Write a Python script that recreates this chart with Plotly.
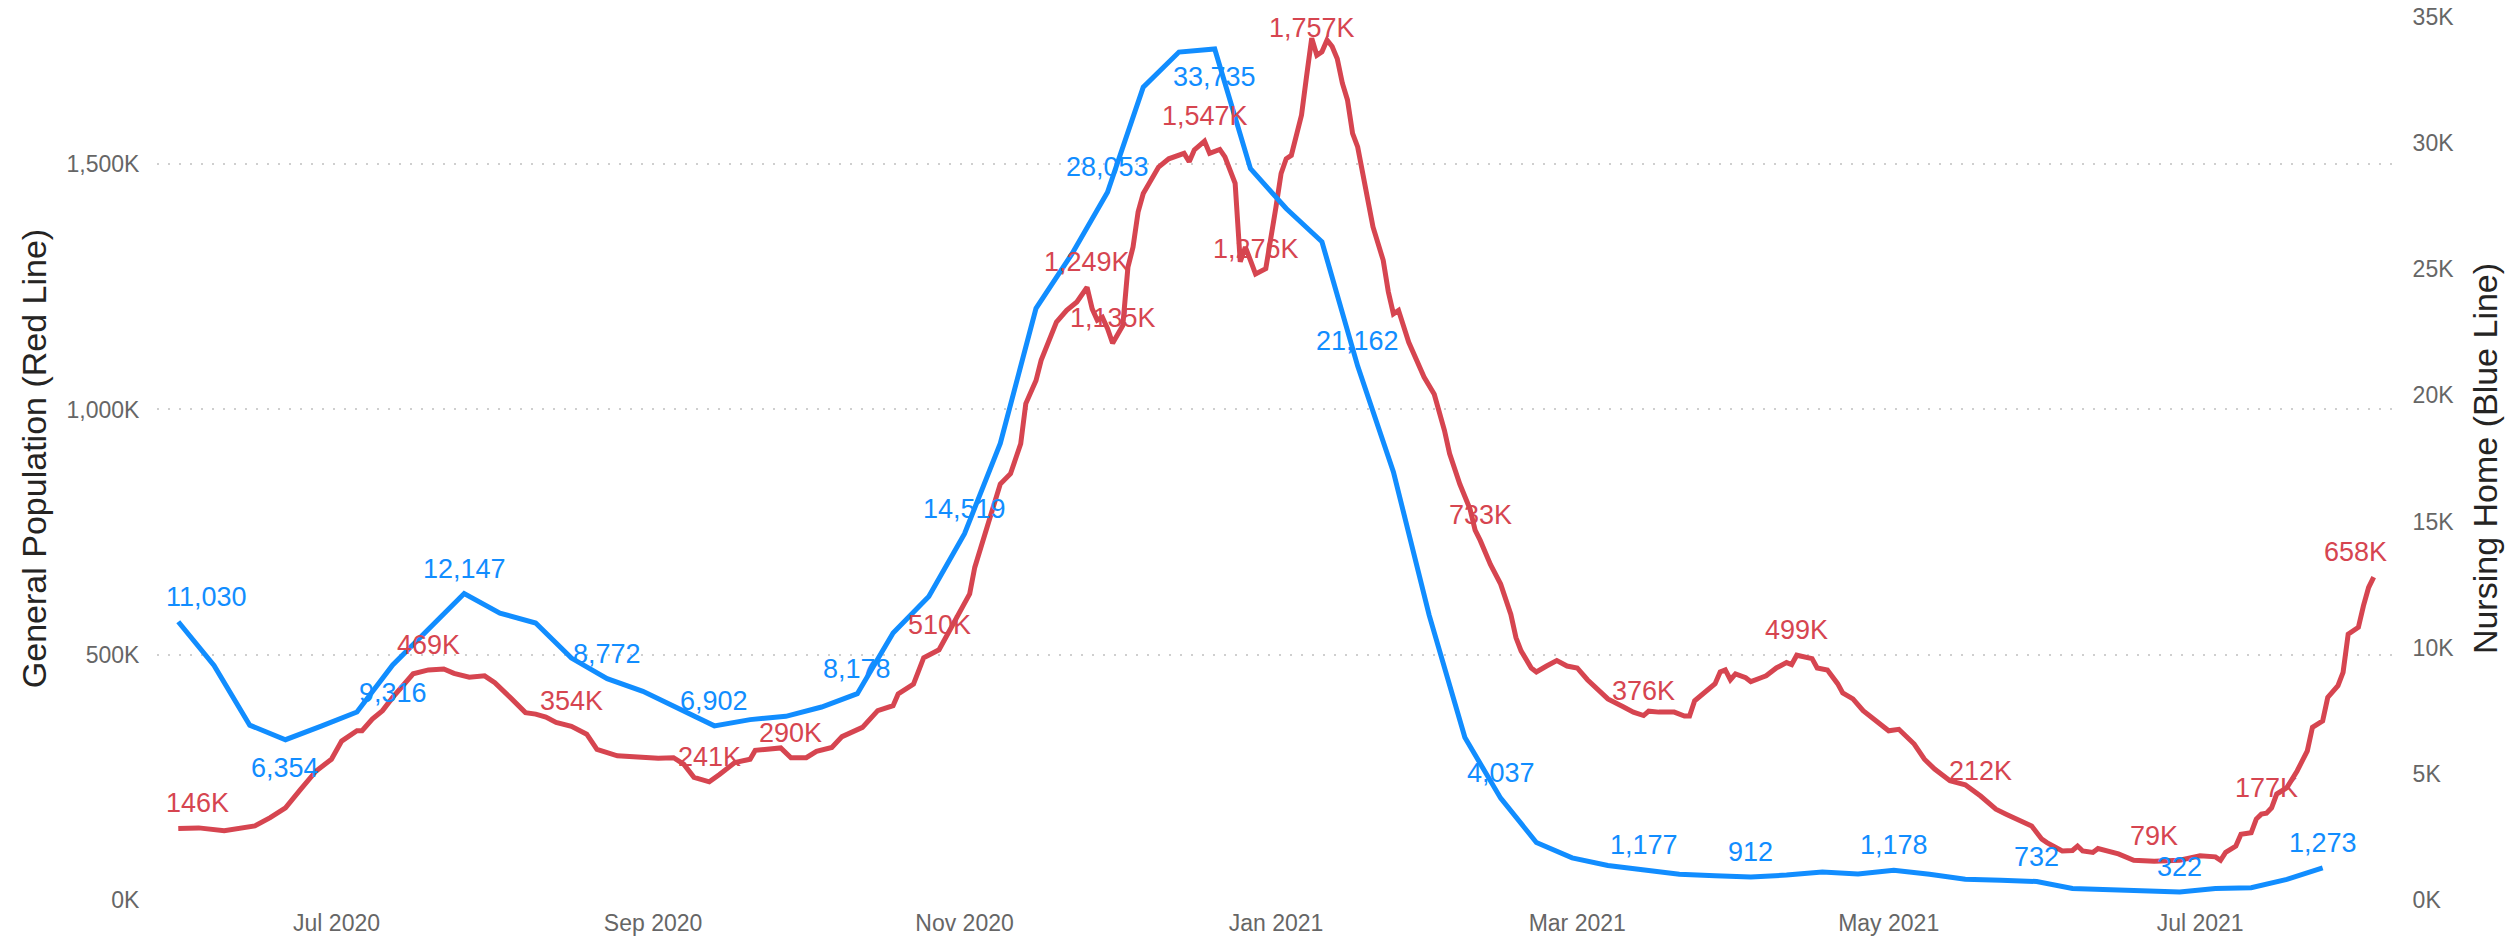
import pandas as pd
import plotly.graph_objects as go

# ---------------- data ----------------
# Nursing Home (blue line) - weekly values, first week ending 2020-05-31
blue_start = "2020-05-31"
blue_values = [
    11030, 9300, 6930, 6354, 6890, 7450, 9316, 10730, 12147, 11370,
    10980, 9590, 8772, 8270, 7610, 6902, 7150, 7280, 7650, 8178,
    10580, 12030, 14519, 18100, 23450, 25600, 28053, 32220, 33610, 33735,
    28990, 27410, 26090, 21162, 16970, 11290, 6440, 4037, 2280, 1670,
    1370, 1177, 1020, 960, 912, 990, 1110, 1030, 1178, 1020,
    820, 780, 732, 460, 420, 360, 322, 460, 490, 820,
    1273,
]
blue_label_idx = [0, 3, 6, 8, 12, 15, 19, 22, 26, 29, 33, 37, 41, 44, 48, 52, 56, 60]
blue_label_below = [3, 6, 29]

# General Population (red line) - days counted from 2020-07-01, values in thousands
red_base = "2020-07-01"
red_days = [
    -31, -27, -22, -20, -16, -13, -10, -7, -4, -1, 1, 4, 5, 7, 9, 11, 15, 18, 21, 23,
    26, 29, 31, 34, 37, 39, 41, 43, 46, 49, 51, 55, 60, 63, 66, 68, 70, 73, 75, 78,
    81, 82, 87, 89, 92, 94, 97, 99, 103, 106, 109, 110, 113, 115, 118, 120, 123, 124, 125, 127,
    130, 132, 134, 135, 137, 138, 139, 141, 143, 145, 147, 148, 149, 150, 151, 152, 154, 155, 156, 157,
    158, 161, 163, 164, 166, 167, 168, 170, 171, 173, 174, 175, 176, 177, 178, 179, 180, 182, 183, 184,
    185, 186, 187, 188, 189, 190, 191, 192, 193, 194, 195, 196, 197, 198, 199, 200, 202, 203, 205, 206,
    207, 208, 210, 213, 215, 217, 218, 220, 222, 223, 224, 226, 228, 230, 231, 232, 234, 235, 237, 239,
    241, 243, 245, 247, 249, 252, 254, 256, 257, 259, 262, 264, 265, 266, 268, 270, 271, 272, 273, 274,
    276, 277, 279, 280, 282, 284, 285, 286, 289, 290, 292, 294, 295, 297, 299, 302, 304, 306, 309, 311,
    313, 316, 319, 322, 325, 327, 330, 332, 334, 335, 338, 340, 341, 342, 344, 345, 349, 352, 356, 361,
    365, 368, 369, 370, 372, 373, 375, 376, 377, 378, 379, 380, 382, 384, 386, 387, 389, 390, 392, 393,
    394, 396, 397, 398, 399,
]
red_values_k = [
    146, 147, 141, 144, 151, 168, 188, 226, 263, 287, 324, 345, 345, 369, 386, 413, 461, 469, 471, 462,
    454, 457, 443, 413, 382, 379, 373, 362, 354, 338, 307, 294, 290, 289, 290, 277, 250, 241, 256, 280,
    287, 305, 310, 290, 290, 303, 311, 333, 352, 386, 396, 420, 440, 494, 510, 549, 603, 624, 678, 746,
    848, 869, 930, 1012, 1059, 1100, 1127, 1178, 1202, 1219, 1249, 1205, 1182, 1188, 1165, 1135, 1171, 1290, 1331, 1403,
    1440, 1494, 1511, 1515, 1522, 1505, 1529, 1547, 1522, 1530, 1515, 1488, 1461, 1301, 1331, 1304, 1276, 1287, 1345, 1413,
    1481, 1511, 1518, 1560, 1600, 1680, 1757, 1722, 1729, 1753, 1740, 1715, 1665, 1631, 1563, 1535, 1427, 1372, 1304, 1240,
    1195, 1202, 1137, 1066, 1031, 957, 910, 848, 797, 754, 733, 684, 644, 582, 535, 508, 473, 465, 477, 488,
    477, 473, 449, 430, 410, 394, 383, 376, 385, 383, 383, 375, 375, 406, 422, 441, 465, 469, 449, 461,
    453, 445, 453, 457, 473, 484, 480, 499, 492, 473, 469, 441, 422, 410, 386, 362, 345, 348, 318, 287,
    267, 243, 235, 212, 185, 175, 161, 151, 124, 117, 100, 101, 110, 100, 97, 105, 94, 81, 79, 81,
    90, 88, 81, 97, 110, 134, 137, 165, 175, 177, 188, 216, 229, 263, 304, 352, 365, 413, 437, 464,
    542, 556, 600, 637, 658,
]
red_label_days = [-31, 18, 46, 73, 89, 118, 147, 152, 170, 180, 191, 224, 256, 286, 322, 356, 378, 399]

x_tick_dates = ["2020-07-01", "2020-09-01", "2020-11-01", "2021-01-01",
                "2021-03-01", "2021-05-01", "2021-07-01"]
x_tick_labels = ["Jul 2020", "Sep 2020", "Nov 2020", "Jan 2021",
                 "Mar 2021", "May 2021", "Jul 2021"]
left_tick_vals = [0, 500, 1000, 1500]
left_tick_text = ["0K", "500K", "1,000K", "1,500K"]
right_tick_vals = [0, 5000, 10000, 15000, 20000, 25000, 30000, 35000]
right_tick_text = ["0K", "5K", "10K", "15K", "20K", "25K", "30K", "35K"]

# ---------------- styling / layout constants ----------------
BLUE = "#118DFF"
RED = "#D64550"
FONT = "Liberation Sans, Arial, sans-serif"
W, H = 2509, 929
M = dict(l=149, r=125, t=9, b=37)
Y_LEFT_MAX, Y_RIGHT_MAX = 1800, 35000
PLOT_H = H - M["t"] - M["b"]
LABEL_SIZE = 27
ABOVE, BELOW = 25, -28
MIN_TOP_GAP = 11  # labels are kept inside the plotting area

# ---------------- derived ----------------
blue_dates = pd.date_range(blue_start, periods=len(blue_values), freq="7D")
red_dates = [pd.Timestamp(red_base) + pd.Timedelta(days=d) for d in red_days]


def label_shift(value, vmax, below):
    if below:
        return BELOW
    px_from_top = PLOT_H * (1 - value / vmax)
    return min(ABOVE, max(0, px_from_top - MIN_TOP_GAP))


annotations = []
for i in blue_label_idx:
    v = blue_values[i]
    a = dict(x=blue_dates[i], y=v, xref="x", yref="y2", text=f"{v:,}",
             showarrow=False, yanchor="middle", xanchor="center",
             yshift=label_shift(v, Y_RIGHT_MAX, i in blue_label_below),
             font=dict(size=LABEL_SIZE, color=BLUE, family=FONT))
    if i == 0:
        a.update(xanchor="left", xshift=-14)
    annotations.append(a)

red_lookup = dict(zip(red_days, red_values_k))
for j, d in enumerate(red_label_days):
    v = red_lookup[d]
    a = dict(x=pd.Timestamp(red_base) + pd.Timedelta(days=d), y=v, xref="x", yref="y",
             text=f"{v:,}K", showarrow=False, yanchor="middle", xanchor="center",
             yshift=label_shift(v, Y_LEFT_MAX, False),
             font=dict(size=LABEL_SIZE, color=RED, family=FONT))
    if j == 0:
        a.update(xanchor="left", xshift=-14)
    elif j == len(red_label_days) - 1:
        a.update(xanchor="right", xshift=15)
    annotations.append(a)

fig = go.Figure()
fig.add_trace(go.Scatter(
    x=blue_dates, y=blue_values, yaxis="y2", mode="lines",
    line=dict(color=BLUE, width=5), name="Nursing Home",
))
fig.add_trace(go.Scatter(
    x=red_dates, y=red_values_k, yaxis="y", mode="lines",
    line=dict(color=RED, width=5), name="General Population",
))

fig.update_layout(
    width=W, height=H,
    margin=M,
    paper_bgcolor="white", plot_bgcolor="white",
    showlegend=False,
    font=dict(family=FONT),
    annotations=annotations,
    xaxis=dict(
        type="date", automargin=False, ticklabeloverflow="allow",
        range=["2020-05-26 20:00", "2021-08-07 14:00"],
        tickvals=x_tick_dates, ticktext=x_tick_labels,
        showgrid=False, zeroline=False, showline=False,
        ticks="outside", ticklen=2, tickcolor="rgba(0,0,0,0)",
        tickfont=dict(size=23, color="#666666", family=FONT),
    ),
    yaxis=dict(
        range=[0, Y_LEFT_MAX], automargin=False, ticklabeloverflow="allow",
        tickvals=left_tick_vals, ticktext=left_tick_text,
        showgrid=True, gridcolor="#CFCFCF", gridwidth=2, griddash="2px,9px",
        zeroline=False, showline=False,
        ticks="outside", ticklen=12, tickcolor="rgba(0,0,0,0)",
        tickfont=dict(size=23, color="#666666", family=FONT),
        title=dict(text="General Population (Red Line)",
                   font=dict(size=34, color="#252423", family=FONT), standoff=9),
    ),
    yaxis2=dict(
        range=[0, Y_RIGHT_MAX], overlaying="y", side="right", automargin=False,
        ticklabeloverflow="allow",
        tickvals=right_tick_vals, ticktext=right_tick_text,
        showgrid=False, zeroline=False, showline=False,
        ticks="outside", ticklen=15, tickcolor="rgba(0,0,0,0)",
        tickfont=dict(size=23, color="#666666", family=FONT),
        title=dict(text="Nursing Home (Blue Line)",
                   font=dict(size=34, color="#252423", family=FONT), standoff=20),
    ),
)

fig.write_html("out.html")
